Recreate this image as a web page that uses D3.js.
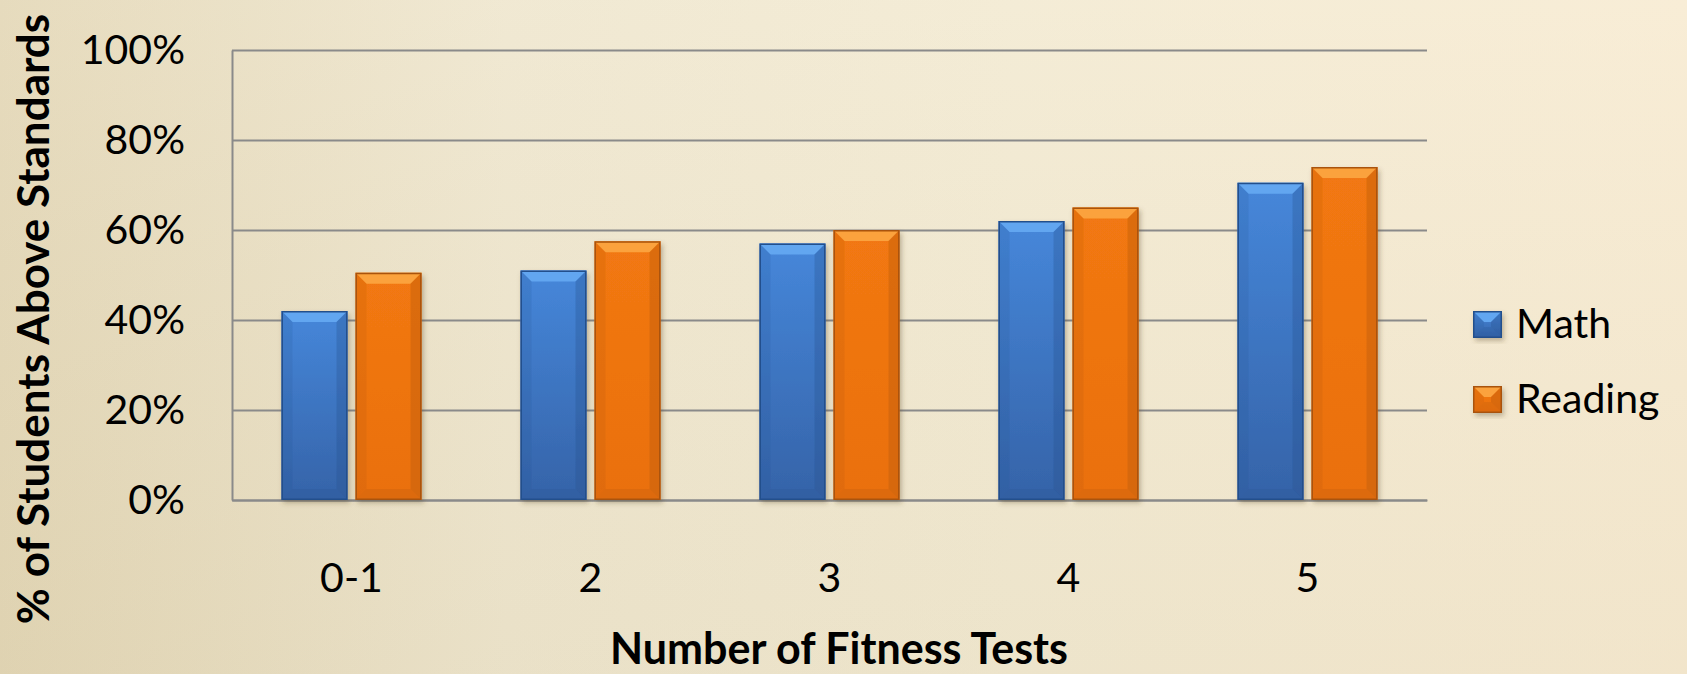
<!DOCTYPE html>
<html>
<head>
<meta charset="utf-8">
<script src="https://cdn.jsdelivr.net/npm/d3@7"></script>
<style>
  html, body { margin: 0; padding: 0; }
  body { width: 1687px; height: 674px; overflow: hidden; }
  svg { display: block; font-family: Lato, "Open Sans", sans-serif; }
</style>
</head>
<body>
<svg width="1687" height="674"></svg>
<script>
const categories = ["0-1", "2", "3", "4", "5"];
const seriesNames = ["Math", "Reading"];
const mathValues = [42, 51, 57, 62, 70.5];
const readingValues = [50.5, 57.5, 60, 65, 74];
const yTicks = [0, 20, 40, 60, 80, 100];

const svg = d3.select("svg");
const width = +svg.attr("width");
const height = +svg.attr("height");

const palette = {
  Math: { top: "#62a6f0", light: "#4687da", dark: "#3563a8", edge: "#244f8c" },
  Reading: { top: "#fba23c", light: "#f27812", dark: "#ea700e", edge: "#a9530a" }
};

const defs = svg.append("defs");

const bg = defs.append("linearGradient").attr("id", "bg").attr("x1", 0).attr("x2", 1).attr("y1", 0).attr("y2", 0);
bg.append("stop").attr("offset", "0%").attr("stop-color", "#e2d6b6");
bg.append("stop").attr("offset", "30%").attr("stop-color", "#eee6cf");
bg.append("stop").attr("offset", "60%").attr("stop-color", "#f2ead3");
bg.append("stop").attr("offset", "100%").attr("stop-color", "#f7ebd3");

const bgV = defs.append("linearGradient").attr("id", "bgv").attr("x1", 0).attr("x2", 0).attr("y1", 0).attr("y2", 1);
bgV.append("stop").attr("offset", "0%").attr("stop-color", "#fff8e8").attr("stop-opacity", 0.15);
bgV.append("stop").attr("offset", "100%").attr("stop-color", "#c9b98f").attr("stop-opacity", 0.12);

seriesNames.forEach(s => {
  const g = defs.append("linearGradient").attr("id", "fill-" + s).attr("x1", 0).attr("x2", 0).attr("y1", 0).attr("y2", 1);
  g.append("stop").attr("offset", "0%").attr("stop-color", palette[s].light);
  g.append("stop").attr("offset", "100%").attr("stop-color", palette[s].dark);
});

const shadow = defs.append("filter").attr("id", "shadow").attr("x", "-20%").attr("y", "-10%").attr("width", "150%").attr("height", "130%");
shadow.append("feDropShadow").attr("dx", 2).attr("dy", 3).attr("stdDeviation", 2.5)
  .attr("flood-color", "#5a4a2a").attr("flood-opacity", 0.35);

svg.append("rect").attr("width", width).attr("height", height).attr("fill", "url(#bg)");
svg.append("rect").attr("width", width).attr("height", height).attr("fill", "url(#bgv)");

const margin = { top: 50, left: 232, right: 260, bottom: 174 };
const innerW = width - margin.left - margin.right;
const innerH = height - margin.top - margin.bottom;

const x0 = d3.scaleBand().domain(categories).range([0, innerW]).paddingInner(0.414).paddingOuter(0.207);
const x1 = d3.scaleBand().domain(seriesNames).range([0, x0.bandwidth()]).paddingInner(0.108);
const y = d3.scaleLinear().domain([0, 100]).range([innerH, 0]);

const g = svg.append("g").attr("transform", `translate(${margin.left},${margin.top})`);

// y axis with gridlines
const yAxis = g.append("g")
  .call(d3.axisLeft(y).tickValues(yTicks).tickFormat(d => d + "%").tickSizeInner(-innerW).tickSizeOuter(0).tickPadding(47));
yAxis.selectAll("line").attr("stroke", "#8a8a8a").attr("stroke-width", 2);
yAxis.select(".domain").attr("stroke", "#8a8a8a").attr("stroke-width", 2);
yAxis.selectAll("text").attr("font-size", 41).attr("fill", "#000").attr("font-family", "Lato, sans-serif");

// x axis labels
const xAxis = g.append("g").attr("transform", `translate(0,${innerH})`)
  .call(d3.axisBottom(x0).tickSize(0).tickPadding(0));
xAxis.select(".domain").attr("stroke", "#8a8a8a").attr("stroke-width", 2);
xAxis.selectAll("text").attr("font-size", 41).attr("fill", "#000").attr("dy", 0).attr("y", 92)
  .attr("font-family", "Lato, sans-serif");

// bars
const rows = categories.map((c, i) => ({ cat: c, values: [
  { key: "Math", value: mathValues[i] },
  { key: "Reading", value: readingValues[i] }
] }));

const bev = 11;
const drawBar = (sel, s, bx, by, bw, bh) => {
  const p = palette[s];
  const b = Math.min(bev, bh / 2, bw / 2);
  const grp = sel.append("g").attr("filter", "url(#shadow)");
  grp.append("rect").attr("x", bx).attr("y", by).attr("width", bw).attr("height", bh)
    .attr("fill", `url(#fill-${s})`);
  // top bevel
  grp.append("polygon")
    .attr("points", [[bx, by], [bx + bw, by], [bx + bw - b, by + b], [bx + b, by + b]].join(" "))
    .attr("fill", p.top);
  // left bevel
  grp.append("polygon")
    .attr("points", [[bx, by], [bx + b, by + b], [bx + b, by + bh - b], [bx, by + bh]].join(" "))
    .attr("fill", p.edge).attr("opacity", 0.15);
  // right bevel
  grp.append("polygon")
    .attr("points", [[bx + bw, by], [bx + bw - b, by + b], [bx + bw - b, by + bh - b], [bx + bw, by + bh]].join(" "))
    .attr("fill", p.edge).attr("opacity", 0.3);
  // bottom bevel
  grp.append("polygon")
    .attr("points", [[bx, by + bh], [bx + b, by + bh - b], [bx + bw - b, by + bh - b], [bx + bw, by + bh]].join(" "))
    .attr("fill", p.edge).attr("opacity", 0.2);
  grp.append("rect").attr("x", bx + 0.75).attr("y", by + 0.75).attr("width", bw - 1.5).attr("height", bh - 1.5)
    .attr("fill", "none").attr("stroke", p.edge).attr("stroke-width", 1.5);
};

const groups = g.selectAll(".grp").data(rows).enter().append("g")
  .attr("class", "grp")
  .attr("transform", d => `translate(${x0(d.cat)},0)`);

groups.each(function (d) {
  const sel = d3.select(this);
  d.values.forEach(v => {
    drawBar(sel, v.key, x1(v.key), y(v.value), x1.bandwidth(), innerH - y(v.value));
  });
});

// legend
const legend = svg.append("g").attr("transform", "translate(1473,311)");
seriesNames.forEach((s, i) => {
  const lg = legend.append("g").attr("transform", `translate(0,${i * 75})`);
  drawBar(lg, s, 0, 0, 29, 27);
  lg.append("text").attr("x", 43).attr("y", 27).attr("font-size", 41).attr("fill", "#000")
    .text(s);
});

// axis titles
svg.append("text").attr("x", 839).attr("y", 664).attr("text-anchor", "middle")
  .attr("font-size", 43).attr("font-weight", "bold").attr("fill", "#000")
  .text("Number of Fitness Tests");

svg.append("text").attr("transform", "translate(49,319) rotate(-90)").attr("text-anchor", "middle")
  .attr("font-size", 44).attr("font-weight", "bold").attr("fill", "#000")
  .text("% of Students Above Standards");
</script>
</body>
</html>
